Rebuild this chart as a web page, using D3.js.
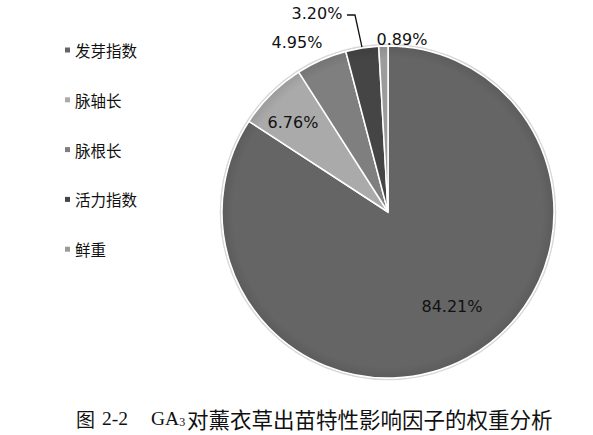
<!DOCTYPE html>
<html>
<head>
<meta charset="utf-8">
<script src="https://cdn.jsdelivr.net/npm/d3@7"></script>
<style>
  body { margin: 0; background: #fff; }
  svg { display: block; }
</style>
</head>
<body>
<div id="chart"></div>
<script>
// data
var categories = ["发芽指数", "脉轴长", "脉根长", "活力指数", "鲜重"];
var values = [84.21, 6.76, 4.95, 3.20, 0.89];
var labels = ["84.21%", "6.76%", "4.95%", "3.20%", "0.89%"];
var colors = ["#656565", "#aaaaaa", "#7f7f7f", "#454545", "#9b9b9b"];

var width = 593, height = 435;

var svg = d3.select("#chart")
    .append("svg")
    .attr("width", width)
    .attr("height", height);

var cx = 388, cy = 212, radius = 166;

var pie = d3.pie().sort(null).value(d => d);
var arcs = pie(values);

var arc = d3.arc().innerRadius(0).outerRadius(radius);

// soft edge shading like the office chart
var defs = svg.append("defs");
colors.forEach(function(c, i) {
    var g = defs.append("radialGradient")
        .attr("id", "grad" + i)
        .attr("gradientUnits", "userSpaceOnUse")
        .attr("cx", 0).attr("cy", 0).attr("r", radius);
    g.append("stop").attr("offset", "0.93").attr("stop-color", c);
    g.append("stop").attr("offset", "1").attr("stop-color", d3.color(c).darker(0.25));
});

var pieGroup = svg.append("g")
    .attr("transform", `translate(${cx}, ${cy})`);

pieGroup.append("circle")
    .attr("r", radius + 1.5)
    .attr("fill", "none")
    .attr("stroke", "#d8d8d8")
    .attr("stroke-width", 1.5);

pieGroup.selectAll("path")
    .data(arcs)
    .enter()
    .append("path")
    .attr("d", arc)
    .attr("fill", (d, i) => "url(#grad" + i + ")")
    .attr("stroke", "#fff")
    .attr("stroke-width", 1.5);

// label positions relative to the centre
var labelPos = [
    [64, 94],
    [-95, -90],
    [-91, -170],
    [-71, -199],
    [14, -173]
];

pieGroup.selectAll("text.lbl")
    .data(arcs)
    .enter()
    .append("text")
    .attr("class", "lbl")
    .attr("x", (d, i) => labelPos[i][0])
    .attr("y", (d, i) => labelPos[i][1])
    .attr("text-anchor", "middle")
    .attr("dominant-baseline", "central")
    .style("font-family", "'DejaVu Sans', sans-serif")
    .style("font-size", "16px")
    .attr("fill", "#111")
    .text((d, i) => labels[i]);

// leader line for 3.20%
var small = arcs[3];
var mid = (small.startAngle + small.endAngle) / 2;
var ex = Math.sin(mid) * (radius + 1), ey = -Math.cos(mid) * (radius + 1);
pieGroup.append("polyline")
    .attr("points", `${-41},${-197} ${-33},${-197} ${ex},${ey}`)
    .attr("fill", "none")
    .attr("stroke", "#111")
    .attr("stroke-width", 1.3);

// legend
var legend = svg.append("g")
    .attr("transform", "translate(65, 50)");

var rows = legend.selectAll("g")
    .data(categories)
    .enter()
    .append("g")
    .attr("transform", (d, i) => `translate(0, ${i * 49.8})`);

rows.append("rect")
    .attr("x", 0)
    .attr("y", -2.5)
    .attr("width", 5)
    .attr("height", 5)
    .attr("fill", (d, i) => colors[i]);

rows.append("text")
    .attr("x", 10)
    .attr("y", 0)
    .attr("dominant-baseline", "central")
    .style("font-family", "'Noto Sans CJK SC', sans-serif")
    .style("font-size", "15.5px")
    .attr("fill", "#111")
    .text(d => d);

// caption
var capY = 418;
var capStyle = function(sel, font, size) {
    return sel.attr("y", capY)
        .attr("dominant-baseline", "central")
        .style("font-family", font)
        .style("font-size", size)
        .attr("fill", "#111");
};

capStyle(svg.append("text").attr("x", 76), "'Noto Sans CJK SC', sans-serif", "19px").text("图");
capStyle(svg.append("text").attr("x", 102), "'Liberation Serif', serif", "19.5px").text("2-2");
var ga = capStyle(svg.append("text").attr("x", 151), "'Liberation Serif', serif", "19.5px");
ga.append("tspan").text("GA");
ga.append("tspan").attr("dy", 4).style("font-size", "12px").text("3");
capStyle(svg.append("text").attr("x", 187), "'Noto Sans CJK SC', sans-serif", "21.5px")
    .text("对薰衣草出苗特性影响因子的权重分析");
</script>
</body>
</html>
